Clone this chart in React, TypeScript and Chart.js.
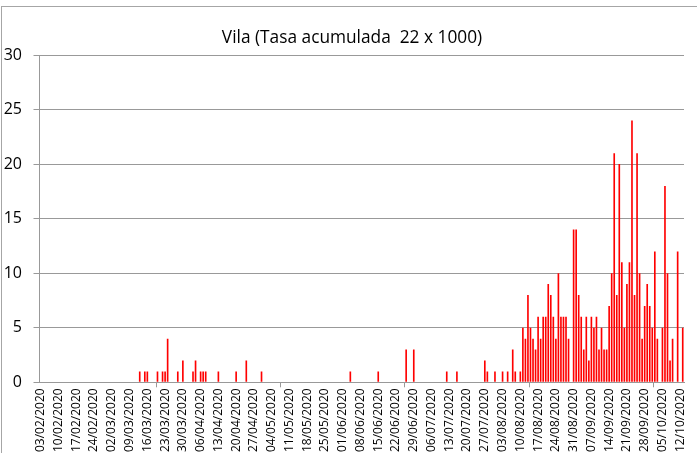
import React, { useEffect, useRef } from 'react';
import { Chart, registerables } from 'chart.js';

Chart.register(...registerables);

// Chart title
const TITLE = 'Vila (Tasa acumulada  22 x 1000)';

// First day of the daily series (03/02/2020)
const START_YEAR = 2020;
const START_MONTH = 2; // February
const START_DAY = 3;

// Daily values, one row per week (row comment = first day of that week)
const casesPerDay = [
  0, 0, 0, 0, 0, 0, 0, // 03/02
  0, 0, 0, 0, 0, 0, 0, // 10/02
  0, 0, 0, 0, 0, 0, 0, // 17/02
  0, 0, 0, 0, 0, 0, 0, // 24/02
  0, 0, 0, 0, 0, 0, 0, // 02/03
  0, 0, 0, 0, 1, 0, 1, // 09/03
  1, 0, 0, 0, 1, 0, 1, // 16/03
  1, 4, 0, 0, 0, 1, 0, // 23/03
  2, 0, 0, 0, 1, 2, 0, // 30/03
  1, 1, 1, 0, 0, 0, 0, // 06/04
  1, 0, 0, 0, 0, 0, 0, // 13/04
  1, 0, 0, 0, 2, 0, 0, // 20/04
  0, 0, 0, 1, 0, 0, 0, // 27/04
  0, 0, 0, 0, 0, 0, 0, // 04/05
  0, 0, 0, 0, 0, 0, 0, // 11/05
  0, 0, 0, 0, 0, 0, 0, // 18/05
  0, 0, 0, 0, 0, 0, 0, // 25/05
  0, 0, 0, 1, 0, 0, 0, // 01/06
  0, 0, 0, 0, 0, 0, 0, // 08/06
  1, 0, 0, 0, 0, 0, 0, // 15/06
  0, 0, 0, 0, 3, 0, 0, // 22/06
  3, 0, 0, 0, 0, 0, 0, // 29/06
  0, 0, 0, 0, 0, 0, 1, // 06/07
  0, 0, 0, 1, 0, 0, 0, // 13/07
  0, 0, 0, 0, 0, 0, 0, // 20/07
  2, 1, 0, 0, 1, 0, 0, // 27/07
  1, 0, 1, 0, 3, 1, 0, // 03/08
  1, 5, 4, 8, 5, 4, 3, // 10/08
  6, 4, 6, 6, 9, 8, 6, // 17/08
  4, 10, 6, 6, 6, 4, 0, // 24/08
  14, 14, 8, 6, 3, 6, 2, // 31/08
  6, 5, 6, 3, 5, 3, 3, // 07/09
  7, 10, 21, 8, 20, 11, 5, // 14/09
  9, 11, 24, 8, 21, 10, 4, // 21/09
  7, 9, 7, 5, 12, 4, 0, // 28/09
  5, 18, 10, 2, 4, 0, 12, // 05/10
  0, 5, // 12/10
];

// Y axis ticks
const Y_MIN = 0;
const Y_MAX = 30;
const Y_STEP = 5;
// A date label is shown every LABEL_EVERY days
const LABEL_EVERY = 7;

const pad2 = (n: number) => (n < 10 ? '0' + n : String(n));
const dayLabels: string[] = casesPerDay.map((_, i) => {
  const d = new Date(Date.UTC(START_YEAR, START_MONTH - 1, START_DAY + i));
  return `${pad2(d.getUTCDate())}/${pad2(d.getUTCMonth() + 1)}/${d.getUTCFullYear()}`;
});

const GRID = '#999999';
const FONT = 'Open Sans';

const titlePlugin = {
  id: 'fixedTitle',
  afterDraw(chart: any) {
    const ctx = chart.ctx;
    ctx.save();
    ctx.font = `normal 17.3px ${FONT}`;
    ctx.fillStyle = '#000000';
    ctx.textAlign = 'center';
    ctx.textBaseline = 'alphabetic';
    ctx.fillText(TITLE, 352, 43);
    ctx.restore();
  },
};

export default function App() {
  const ref = useRef<HTMLCanvasElement>(null);

  useEffect(() => {
    document.body.style.margin = '0';
    const chart = new Chart(ref.current as HTMLCanvasElement, {
      type: 'bar',
      data: {
        labels: dayLabels,
        datasets: [
          {
            data: casesPerDay,
            backgroundColor: '#ff0000',
            borderWidth: 0,
            barPercentage: 0.65,
            categoryPercentage: 1,
          },
        ],
      },
      options: {
        responsive: false,
        animation: false,
        devicePixelRatio: 1,
        layout: { padding: { left: 0, right: 13, top: 55, bottom: 0 } },
        plugins: {
          legend: { display: false },
          tooltip: { enabled: false },
          title: { display: false },
        },
        scales: {
          x: {
            offset: true,
            grid: {
              display: true,
              offset: true,
              drawOnChartArea: false,
              drawTicks: true,
              tickLength: 5,
              color: (ctx: any) => (ctx.index % LABEL_EVERY === 0 ? GRID : 'rgba(0,0,0,0)'),
            },
            border: { display: true, color: GRID },
            ticks: {
              autoSkip: false,
              maxRotation: 90,
              minRotation: 90,
              padding: 1,
              color: '#000000',
              font: { family: FONT, size: 12, lineHeight: 1 },
              callback: (_v: any, i: number) => (i % LABEL_EVERY === 0 ? dayLabels[i] : null),
            },
          },
          y: {
            min: Y_MIN,
            max: Y_MAX,
            afterFit: (scale: any) => {
              scale.width = 39.5;
            },
            ticks: {
              stepSize: Y_STEP,
              padding: 11.5,
              color: '#000000',
              font: { family: FONT, size: 16 },
            },
            grid: { color: GRID, tickLength: 6 },
            border: { display: true, color: GRID },
          },
        },
      },
      plugins: [titlePlugin],
    } as any);
    return () => chart.destroy();
  }, []);

  return (
    <div style={{ position: 'relative', width: 697, height: 453, background: '#fff' }}>
      <canvas ref={ref} width={697} height={453} style={{ display: 'block' }} />
      <div
        style={{
          position: 'absolute',
          left: 1,
          top: 6,
          right: 0,
          bottom: 0,
          borderTop: '1px solid #a6a6a6',
          borderLeft: '1px solid #a6a6a6',
          pointerEvents: 'none',
        }}
      />
    </div>
  );
}
